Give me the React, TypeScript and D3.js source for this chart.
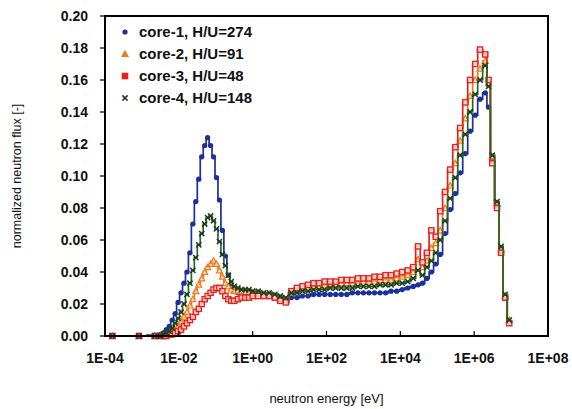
import React from "react";
import * as d3 from "d3";

// group representative energies, log10(E / eV)
const logEnergy = [
  -3.8, -3.08, -2.65,
  -2.5, -2.42, -2.34, -2.26, -2.18, -2.1, -2.02, -1.94, -1.86, -1.78, -1.7, -1.62, -1.54, -1.46, -1.38, -1.3,
  -1.22, -1.14, -1.06, -0.98, -0.9, -0.82, -0.74, -0.66, -0.58, -0.5, -0.4, -0.3, -0.2, -0.1, 0.0,
  0.15, 0.3, 0.45, 0.6, 0.75, 0.9, 1.05, 1.2, 1.35, 1.5, 1.65, 1.8, 1.95, 2.1, 2.25, 2.4, 2.55, 2.7, 2.85,
  3.0, 3.15, 3.3, 3.45, 3.6, 3.75, 3.9, 4.05, 4.2, 4.35,
  4.48, 4.6, 4.72, 4.84, 4.96, 5.08, 5.21, 5.35, 5.49, 5.62, 5.76, 5.89, 6.03, 6.16, 6.3, 6.39, 6.49, 6.62, 6.73, 6.84, 6.95,
];

const core1 = [
  0, 0, 0.0005,
  0.001, 0.002, 0.004, 0.006, 0.01, 0.014, 0.021, 0.027, 0.033, 0.04, 0.052, 0.07, 0.084, 0.098, 0.112, 0.119,
  0.124, 0.119, 0.112, 0.099, 0.085, 0.066, 0.05, 0.038, 0.031, 0.028, 0.027, 0.028, 0.028, 0.027, 0.026,
  0.026, 0.025, 0.025, 0.024, 0.023, 0.022, 0.024, 0.024, 0.025, 0.025, 0.026, 0.026, 0.026, 0.026, 0.026, 0.026, 0.026, 0.027, 0.027,
  0.027, 0.027, 0.027, 0.027, 0.027, 0.028, 0.028, 0.029, 0.03, 0.031,
  0.032, 0.033, 0.036, 0.04, 0.045, 0.051, 0.064, 0.079, 0.089, 0.102, 0.114, 0.128, 0.138, 0.148, 0.152, 0.143, 0.11, 0.082, 0.053, 0.024, 0.009,
];

const core2 = [
  0, 0, 0,
  0.0, 0.0, 0.001, 0.002, 0.003, 0.004, 0.006, 0.009, 0.012, 0.015, 0.019, 0.023, 0.028, 0.032, 0.036, 0.04,
  0.043, 0.045, 0.047, 0.045, 0.041, 0.037, 0.033, 0.031, 0.029, 0.028, 0.028, 0.028, 0.027, 0.027, 0.027,
  0.027, 0.026, 0.026, 0.025, 0.023, 0.022, 0.027, 0.028, 0.029, 0.03, 0.031, 0.031, 0.032, 0.032, 0.032, 0.033, 0.033, 0.033, 0.033,
  0.034, 0.034, 0.034, 0.035, 0.035, 0.035, 0.036, 0.037, 0.038, 0.04,
  0.048, 0.043, 0.047, 0.055, 0.058, 0.066, 0.08, 0.094, 0.108, 0.122, 0.136, 0.15, 0.16, 0.167, 0.172, 0.158, 0.112, 0.083, 0.054, 0.025, 0.01,
];

const core3 = [
  0, 0, 0,
  0.0, 0.0, 0.0, 0.001, 0.001, 0.002, 0.003, 0.004, 0.006, 0.008, 0.01, 0.012, 0.015, 0.017, 0.02, 0.023,
  0.025, 0.027, 0.029, 0.03, 0.03, 0.028, 0.025, 0.023, 0.022, 0.022, 0.023, 0.024, 0.024, 0.024, 0.025,
  0.025, 0.025, 0.025, 0.024, 0.022, 0.021, 0.028, 0.03, 0.031, 0.032, 0.033, 0.033, 0.034, 0.034, 0.034, 0.035, 0.035, 0.035, 0.036,
  0.036, 0.036, 0.037, 0.037, 0.038, 0.038, 0.039, 0.04, 0.041, 0.043,
  0.056, 0.046, 0.052, 0.066, 0.062, 0.078, 0.09, 0.104, 0.118, 0.13, 0.146, 0.16, 0.17, 0.179, 0.176, 0.16, 0.108, 0.08, 0.052, 0.024, 0.008,
];

const core4 = [
  0, 0, 0,
  0.0, 0.001, 0.002, 0.003, 0.005, 0.008, 0.011, 0.015, 0.02, 0.026, 0.033, 0.041, 0.049, 0.057, 0.064, 0.07,
  0.074, 0.075, 0.072, 0.067, 0.059, 0.051, 0.044, 0.038, 0.034, 0.031, 0.03, 0.029, 0.029, 0.029, 0.028,
  0.028, 0.027, 0.027, 0.026, 0.025, 0.024, 0.027, 0.027, 0.028, 0.028, 0.029, 0.029, 0.029, 0.03, 0.03, 0.03, 0.03, 0.03, 0.031,
  0.031, 0.031, 0.031, 0.032, 0.032, 0.032, 0.033, 0.033, 0.034, 0.036,
  0.041, 0.038, 0.043, 0.047, 0.052, 0.06, 0.072, 0.086, 0.099, 0.113, 0.126, 0.14, 0.151, 0.16, 0.169, 0.156, 0.113, 0.084, 0.056, 0.026, 0.01,
];

const seriesNames = ["core-1, H/U=274", "core-2, H/U=91", "core-3, H/U=48", "core-4, H/U=148"];
const xTickExponents = [-4, -2, 0, 2, 4, 6, 8];
const yTicks = [0, 0.02, 0.04, 0.06, 0.08, 0.1, 0.12, 0.14, 0.16, 0.18, 0.2];

const W = 572, H = 409;
const L = 105, R = 548, T = 16, B = 336;

type S = { name: string; values: number[]; color: string; marker: string; mcolor: string };

const series: S[] = [
  { name: seriesNames[0], values: core1, color: "#1c2f9c", marker: "circle", mcolor: "#1c2f9c" },
  { name: seriesNames[1], values: core2, color: "#f07a1a", marker: "triangle", mcolor: "#f07a1a" },
  { name: seriesNames[2], values: core3, color: "#e4221c", marker: "square", mcolor: "#e4221c" },
  { name: seriesNames[3], values: core4, color: "#276a27", marker: "cross", mcolor: "#1f3d1f" },
];

function Marker({ type, cx, cy, color, legend }: { type: string; cx: number; cy: number; color: string; legend?: boolean }) {
  if (type === "circle") return <circle cx={cx} cy={cy} r={2.6} fill={color} />;
  if (type === "triangle") {
    const s = 3;
    return (
      <path
        d={`M${cx},${cy - s}L${cx + s},${cy + s * 0.8}L${cx - s},${cy + s * 0.8}Z`}
        fill={legend ? color : "#fff"}
        fillOpacity={legend ? 1 : 0.6}
        stroke={color}
        strokeWidth={1.2}
      />
    );
  }
  if (type === "square") {
    const s = 2.6;
    return <rect x={cx - s} y={cy - s} width={2 * s} height={2 * s} fill={legend ? color : "#fff"} fillOpacity={legend ? 1 : 0.7} stroke={color} strokeWidth={1.4} />;
  }
  const s = 2.6;
  return (
    <path d={`M${cx - s},${cy - s}L${cx + s},${cy + s}M${cx - s},${cy + s}L${cx + s},${cy - s}`} stroke={color} strokeWidth={1.5} fill="none" />
  );
}

export default function App() {
  const x = d3.scaleLog().domain([1e-4, 1e8]).range([L, R]);
  const y = d3.scaleLinear().domain([0, 0.2]).range([B, T]);
  const energies = logEnergy.map((l) => Math.pow(10, l));
  const line = d3
    .line<number>()
    .x((_, i) => x(energies[i]))
    .y((v) => y(v))
    .curve(d3.curveStep);

  const fmtX = (e: number) => `1E${e < 0 ? "-" : "+"}${String(Math.abs(e)).padStart(2, "0")}`;
  const font = "'Liberation Sans', Arial, sans-serif";

  return (
    <svg width={W} height={H} style={{ position: "absolute", left: 0, top: 0, background: "#fff" }} fontFamily={font}>
      <rect x={0} y={0} width={W} height={H} fill="#fff" />
      {series.map((s) => (
        <g key={s.name}>
          <path d={line(s.values) || ""} fill="none" stroke={s.color} strokeWidth={1.7} />
          {s.values.map((v, i) => (
            <Marker key={i} type={s.marker} cx={x(energies[i])} cy={y(v)} color={s.mcolor} />
          ))}
        </g>
      ))}
      {/* frame */}
      <rect x={L} y={T} width={R - L} height={B - T} fill="none" stroke="#000" strokeWidth={2} />
      {/* y ticks */}
      {yTicks.map((t) => (
        <g key={t}>
          <line x1={L - 5} x2={L} y1={y(t)} y2={y(t)} stroke="#000" strokeWidth={1.2} />
          <text x={88} y={y(t)} dy="0.35em" textAnchor="end" fontSize={14} fontWeight="bold" fill="#111">
            {t.toFixed(2)}
          </text>
        </g>
      ))}
      {/* x ticks */}
      {xTickExponents.map((e) => (
        <g key={e}>
          <line x1={x(Math.pow(10, e))} x2={x(Math.pow(10, e))} y1={B} y2={B - 5} stroke="#000" strokeWidth={1.2} />
          <text x={x(Math.pow(10, e))} y={363} textAnchor="middle" fontSize={14} fontWeight="bold" fill="#111">
            {fmtX(e)}
          </text>
        </g>
      ))}
      <text x={(L + R) / 2} y={403} textAnchor="middle" fontSize={13} fill="#111">
        neutron energy [eV]
      </text>
      <text transform={`translate(21,${(T + B) / 2}) rotate(-90)`} textAnchor="middle" fontSize={12.5} fill="#111">
        normalized neutron flux [-]
      </text>
      {/* legend */}
      {series.map((s, i) => (
        <g key={s.name}>
          <Marker type={s.marker} cx={125} cy={32 + i * 22} color={s.mcolor} legend />
          <text x={139} y={32 + i * 22} dy="0.36em" fontSize={15} fontWeight="bold" fill="#111">
            {s.name}
          </text>
        </g>
      ))}
    </svg>
  );
}
